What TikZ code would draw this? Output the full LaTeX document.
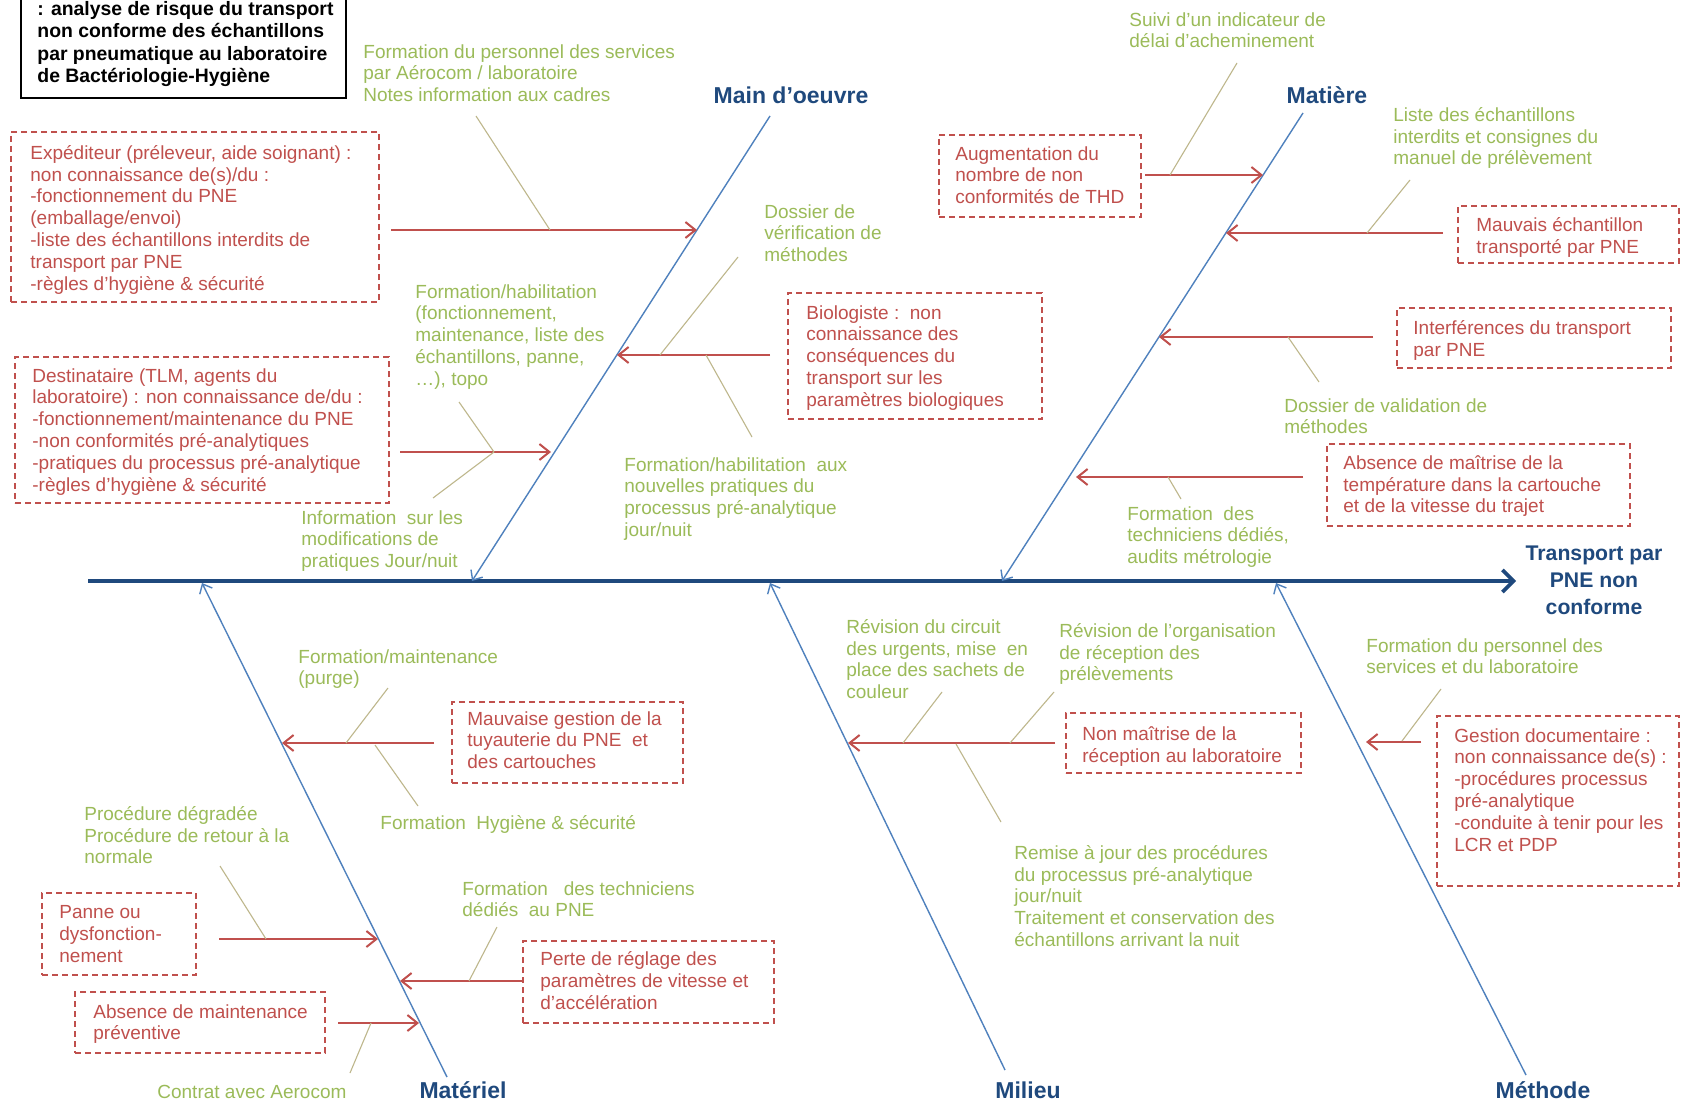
\documentclass[tikz,border=0pt]{standalone}
\usepackage{fontspec}
\setmainfont{Liberation Sans}
\usetikzlibrary{arrows.meta,calc,fit}
\definecolor{redc}{RGB}{192,80,77}
\definecolor{greenc}{RGB}{155,187,89}
\definecolor{tanc}{RGB}{190,183,140}
\definecolor{bonec}{RGB}{79,129,189}
\definecolor{spinec}{RGB}{31,73,125}
\newcommand\txtfnt{\fontsize{9.5}{10.9}\selectfont}
\newcommand\lblfnt{\fontsize{11.5}{13.3}\selectfont\bfseries}
\newcommand\efffnt{\fontsize{10.6}{13.5}\selectfont\bfseries}
\newcommand\ttlfnt{\fontsize{9.7}{11.15}\selectfont\bfseries}
\tikzset{
 rbox/.style={draw=redc, line width=0.6pt, dash pattern=on 3pt off 2pt, inner sep=0pt},
 rtxt/.style={text=redc, font=\txtfnt, align=left, anchor=north west, inner sep=0pt},
 gtxt/.style={text=greenc, font=\txtfnt, align=left, anchor=north west, inner sep=0pt},
 lbl/.style={text=spinec, font=\lblfnt, align=center, inner sep=0pt},
 bone/.style={draw=bonec, line width=0.7pt, -{Straight Barb[length=4pt,width=7pt]}},
 rarr/.style={draw=redc, line width=1pt, -{Straight Barb[length=5pt,width=8pt]}},
 tanl/.style={draw=tanc, line width=0.55pt},
 spinel/.style={draw=spinec, line width=1.8pt, -{Straight Barb[length=5.5pt,width=11pt]}},
}
\begin{document}
\begin{tikzpicture}[x=0.5pt,y=-0.5pt]
\fill[white] (0,0) rectangle (1681,1102);
\useasboundingbox (0,0) rectangle (1681,1102);

% title
\node[draw=black, line width=1pt, fit={(21,-40) (346,98)}, inner sep=0pt] (ttlbox) {};
\node[anchor=north west, font=\ttlfnt, align=left, inner sep=0pt] (ttl) at (37,1)
 {: analyse de risque du transport\\non conforme des échantillons\\par pneumatique au laboratoire\\de Bactériologie-Hygiène};

% spine and effect
\coordinate (sp-start) at (88,581);
\coordinate (sp-end) at (1516,581);
\draw[spinel] (sp-start) -- (sp-end);
\node[lbl, font=\efffnt] (eff) at (1594,580) {Transport par\\PNE non\\conforme};

% bones
\coordinate (mo-top) at (770,116); \coordinate (mo-bot) at (472,581);
\coordinate (ma-top) at (1303,113); \coordinate (ma-bot) at (1002,581);
\coordinate (mt-bot) at (447,1077); \coordinate (mt-top) at (202,583);
\coordinate (mi-bot) at (1005,1070); \coordinate (mi-top) at (770,583);
\coordinate (me-bot) at (1526,1075); \coordinate (me-top) at (1276,583);
\draw[bone] (mo-top) -- (mo-bot);
\draw[bone] (ma-top) -- (ma-bot);
\draw[bone] (mt-bot) -- (mt-top);
\draw[bone] (mi-bot) -- (mi-top);
\draw[bone] (me-bot) -- (me-top);

\node[lbl] (lmo) at (791,95) {Main d’oeuvre};
\node[lbl] (lma) at (1327,95) {Matière};
\node[lbl] (lmt) at (463,1090) {Matériel};
\node[lbl] (lmi) at (1028,1090) {Milieu};
\node[lbl] (lme) at (1543,1090) {Méthode};

% ---------- Main d'oeuvre ----------
\node[gtxt] (g1) at (363,44) {Formation du personnel des services\\par Aérocom / laboratoire\\Notes information aux cadres};
\node[rbox, fit={(11,132) (379,302)}] (exp) {};
\node[rtxt] (expt) at (30,145) {Expéditeur (préleveur, aide soignant) :\\non connaissance de(s)/du :\\-fonctionnement du PNE\\(emballage/envoi)\\-liste des échantillons interdits de\\transport par PNE\\-règles d'hygiène \& sécurité};
\coordinate (a1s) at (391,230); \coordinate (a1e) at (697,230);
\draw[rarr] (a1s) -- (a1e);
\coordinate (t1a) at (476,116); \coordinate (t1b) at (550,230);
\draw[tanl] (t1a) -- (t1b);

\node[gtxt] (g2) at (764,204) {Dossier de\\vérification de\\méthodes};
\node[rbox, fit={(788,293) (1042,419)}] (bio) {};
\node[rtxt] (biot) at (806,305) {Biologiste :\ \ non\\connaissance des\\conséquences du\\transport sur les\\paramètres biologiques};
\coordinate (a2s) at (770,355); \coordinate (a2e) at (617,355);
\draw[rarr] (a2s) -- (a2e);
\coordinate (t2a) at (738,257); \coordinate (t2b) at (660,355);
\draw[tanl] (t2a) -- (t2b);
\coordinate (t3a) at (706,355); \coordinate (t3b) at (752,437);
\draw[tanl] (t3a) -- (t3b);

\node[gtxt] (g3) at (415,284) {Formation/habilitation\\(fonctionnement,\\maintenance, liste des\\échantillons, panne,\\…), topo};
\node[rbox, fit={(15,357) (389,503)}] (dest) {};
\node[rtxt] (destt) at (32,368) {Destinataire (TLM, agents du\\laboratoire) : non connaissance de/du :\\-fonctionnement/maintenance du PNE\\-non conformités pré-analytiques\\-pratiques du processus pré-analytique\\-règles d'hygiène \& sécurité};
\coordinate (a3s) at (400,452); \coordinate (a3e) at (551,452);
\draw[rarr] (a3s) -- (a3e);
\coordinate (t4a) at (459,402); \coordinate (t4b) at (494,452);
\draw[tanl] (t4a) -- (t4b);
\coordinate (t5b) at (433,498);
\draw[tanl] (t4b) -- (t5b);
\node[gtxt] (g4) at (301,510) {Information\ \ sur les\\modifications de\\pratiques Jour/nuit};
\node[gtxt] (g5) at (624,457) {Formation/habilitation\ \ aux\\nouvelles pratiques du\\processus pré-analytique\\jour/nuit};

% ---------- Matière ----------
\node[gtxt] (g6) at (1129,12) {Suivi d'un indicateur de\\délai d'acheminement};
\node[rbox, fit={(939,135) (1141,217)}] (aug) {};
\node[rtxt] (augt) at (955,146) {Augmentation du\\nombre de non\\conformités de THD};
\coordinate (b1s) at (1145,175); \coordinate (b1e) at (1263,175);
\draw[rarr] (b1s) -- (b1e);
\coordinate (t6a) at (1237,63); \coordinate (t6b) at (1170,175);
\draw[tanl] (t6a) -- (t6b);

\node[gtxt] (g7) at (1393,107) {Liste des échantillons\\interdits et consignes du\\manuel de prélèvement};
\node[rbox, fit={(1458,206) (1679,263)}] (mauv) {};
\node[rtxt] (mauvt) at (1476,217) {Mauvais échantillon\\transporté par PNE};
\coordinate (b2s) at (1443,233); \coordinate (b2e) at (1226,233);
\draw[rarr] (b2s) -- (b2e);
\coordinate (t7a) at (1410,180); \coordinate (t7b) at (1367,233);
\draw[tanl] (t7a) -- (t7b);

\node[rbox, fit={(1397,308) (1671,368)}] (intf) {};
\node[rtxt] (intft) at (1413,320) {Interférences du transport\\par PNE};
\coordinate (b3s) at (1373,337); \coordinate (b3e) at (1159,337);
\draw[rarr] (b3s) -- (b3e);
\coordinate (t8a) at (1288,337); \coordinate (t8b) at (1319,382);
\draw[tanl] (t8a) -- (t8b);
\node[gtxt] (g8) at (1284,398) {Dossier de validation de\\méthodes};

\node[rbox, fit={(1327,444) (1630,526)}] (absm) {};
\node[rtxt] (absmt) at (1343,455) {Absence de maîtrise de la\\température dans la cartouche\\et de la vitesse du trajet};
\coordinate (b4s) at (1303,477); \coordinate (b4e) at (1076,477);
\draw[rarr] (b4s) -- (b4e);
\coordinate (t9a) at (1168,477); \coordinate (t9b) at (1181,499);
\draw[tanl] (t9a) -- (t9b);
\node[gtxt] (g9) at (1127,506) {Formation\ \ des\\techniciens dédiés,\\audits métrologie};

% ---------- Matériel ----------
\node[gtxt] (g10) at (298,649) {Formation/maintenance\\(purge)};
\node[rbox, fit={(452,702) (683,783)}] (mgest) {};
\node[rtxt] (mgestt) at (467,711) {Mauvaise gestion de la\\tuyauterie du PNE\ \ et\\des cartouches};
\coordinate (c1s) at (434,743); \coordinate (c1e) at (282,743);
\draw[rarr] (c1s) -- (c1e);
\coordinate (t10a) at (388,688); \coordinate (t10b) at (346,743);
\draw[tanl] (t10a) -- (t10b);
\coordinate (t11a) at (375,745); \coordinate (t11b) at (418,806);
\draw[tanl] (t11a) -- (t11b);
\node[gtxt] (g11) at (380,815) {Formation\ \ Hygiène \& sécurité};

\node[gtxt] (g12) at (84,806) {Procédure dégradée\\Procédure de retour à la\\normale};
\node[rbox, fit={(42,893) (196,975)}] (panne) {};
\node[rtxt] (pannet) at (59,905) {Panne ou\\dysfonction-\\nement};
\coordinate (c2s) at (219,939); \coordinate (c2e) at (378,939);
\draw[rarr] (c2s) -- (c2e);
\coordinate (t12a) at (220,866); \coordinate (t12b) at (266,939);
\draw[tanl] (t12a) -- (t12b);

\node[gtxt] (g13) at (462,881) {Formation\ \ \ des techniciens\\dédiés\ \ au PNE};
\node[rbox, fit={(523,941) (774,1023)}] (perte) {};
\node[rtxt] (pertet) at (540,951) {Perte\ de réglage des\\paramètres de vitesse et\\d'accélération};
\coordinate (c3s) at (523,981); \coordinate (c3e) at (400,981);
\draw[rarr] (c3s) -- (c3e);
\coordinate (t13a) at (497,927); \coordinate (t13b) at (469,981);
\draw[tanl] (t13a) -- (t13b);

\node[rbox, fit={(75,992) (325,1053)}] (absmp) {};
\node[rtxt] (absmpt) at (93,1004) {Absence de maintenance\\préventive};
\coordinate (c4s) at (338,1023); \coordinate (c4e) at (419,1023);
\draw[rarr] (c4s) -- (c4e);
\coordinate (t14a) at (371,1023); \coordinate (t14b) at (350,1073);
\draw[tanl] (t14a) -- (t14b);
\node[gtxt] (g14) at (157,1085) {Contrat avec Aerocom};

% ---------- Milieu ----------
\node[gtxt] (g15) at (846,619) {Révision du circuit\\des urgents, mise\ \ en\\place des sachets de\\couleur};
\node[gtxt] (g16) at (1059,623) {Révision de l'organisation\\de réception des\\prélèvements};
\node[rbox, fit={(1066,713) (1301,773)}] (nonm) {};
\node[rtxt] (nonmt) at (1082,726) {Non maîtrise de la\\réception au laboratoire};
\coordinate (d1s) at (1055,743); \coordinate (d1e) at (848,743);
\draw[rarr] (d1s) -- (d1e);
\coordinate (t15a) at (942,692); \coordinate (t15b) at (903,743);
\draw[tanl] (t15a) -- (t15b);
\coordinate (t16a) at (1054,692); \coordinate (t16b) at (1010,743);
\draw[tanl] (t16a) -- (t16b);
\coordinate (t17a) at (956,744); \coordinate (t17b) at (1001,822);
\draw[tanl] (t17a) -- (t17b);
\node[gtxt] (g17) at (1014,845) {Remise à jour des procédures\\du processus pré-analytique\\jour/nuit\\Traitement et conservation des\\échantillons arrivant la nuit};

% ---------- Méthode ----------
\node[gtxt] (g18) at (1366,638) {Formation du personnel des\\services et du laboratoire};
\node[rbox, fit={(1437,716) (1679,886)}] (gest) {};
\node[rtxt] (gestt) at (1454,728) {Gestion documentaire :\\non connaissance de(s) :\\-procédures processus\\pré-analytique\\-conduite à tenir pour les\\LCR et PDP};
\coordinate (e1s) at (1421,742); \coordinate (e1e) at (1366,742);
\draw[rarr] (e1s) -- (e1e);
\coordinate (t18a) at (1441,689); \coordinate (t18b) at (1402,741);
\draw[tanl] (t18a) -- (t18b);
\end{tikzpicture}
\end{document}
